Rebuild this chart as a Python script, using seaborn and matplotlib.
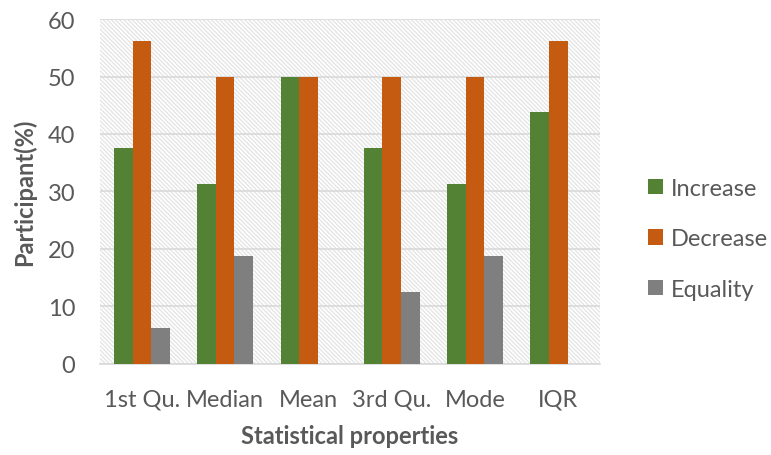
import pandas as pd
import matplotlib.pyplot as plt
import seaborn as sns
from matplotlib.patches import Rectangle

# dados
categorias = ['1st Qu.', 'Median', 'Mean', '3rd Qu.', 'Mode', 'IQR']
increase = [37.5, 31.25, 50, 37.5, 31.25, 43.75]
decrease = [56.25, 50, 50, 50, 50, 56.25]
equality = [6.25, 18.75, 0, 12.5, 18.75, 0]
series = ['Increase', 'Decrease', 'Equality']
cores = ['#548235', '#C55A11', '#7F7F7F']

df = pd.DataFrame({
    'cat': categorias * 3,
    'serie': [s for s in series for _ in categorias],
    'valor': increase + decrease + equality,
})

sns.set_theme(style="white")
plt.rcParams['font.family'] = ['Lato', 'DejaVu Sans']
plt.rcParams['hatch.linewidth'] = 0.9

fig = plt.figure(figsize=(7.71, 4.56), dpi=100)
ax = fig.add_axes([0.130, 0.200, 0.648, 0.756])

# fundo hachurado da área do gráfico
ax.add_patch(Rectangle((0, 0), 1, 1, transform=ax.transAxes, facecolor='white',
                       edgecolor='#e3e3e3', linewidth=0, hatch='\\' * 8, zorder=0))

sns.barplot(data=df, x='cat', y='valor', hue='serie', palette=cores,
            width=0.67, gap=0, saturation=1, linewidth=0, ax=ax, zorder=3)

ax.set_ylim(0, 60)
ax.set_yticks(range(0, 61, 10))
ax.yaxis.grid(True, color='#d9d9d9', linewidth=1.2, zorder=1)
ax.set_axisbelow(True)
for s in ['top', 'right', 'left']:
    ax.spines[s].set_visible(False)
ax.spines['bottom'].set_color('#d9d9d9')
ax.spines['bottom'].set_linewidth(1.2)
ax.tick_params(axis='both', length=0, labelsize=17, colors='#595959')
ax.tick_params(axis='x', pad=18)
ax.tick_params(axis='y', pad=18)
ax.set_xlabel('Statistical properties', fontsize=17, fontweight='bold',
              color='#595959', labelpad=10)
ax.set_ylabel('Participant(%)', fontsize=17, fontweight='bold',
              color='#595959', labelpad=8)

handles, labels = ax.get_legend_handles_labels()
ax.legend_.remove()
fig.legend(handles, labels, loc='center left', bbox_to_anchor=(0.840, 0.474),
           frameon=False, fontsize=17, labelcolor='#595959',
           handlelength=0.65, handleheight=0.65, handletextpad=0.35,
           labelspacing=1.25, borderpad=0, borderaxespad=0)

plt.savefig('out.png', dpi=100)
